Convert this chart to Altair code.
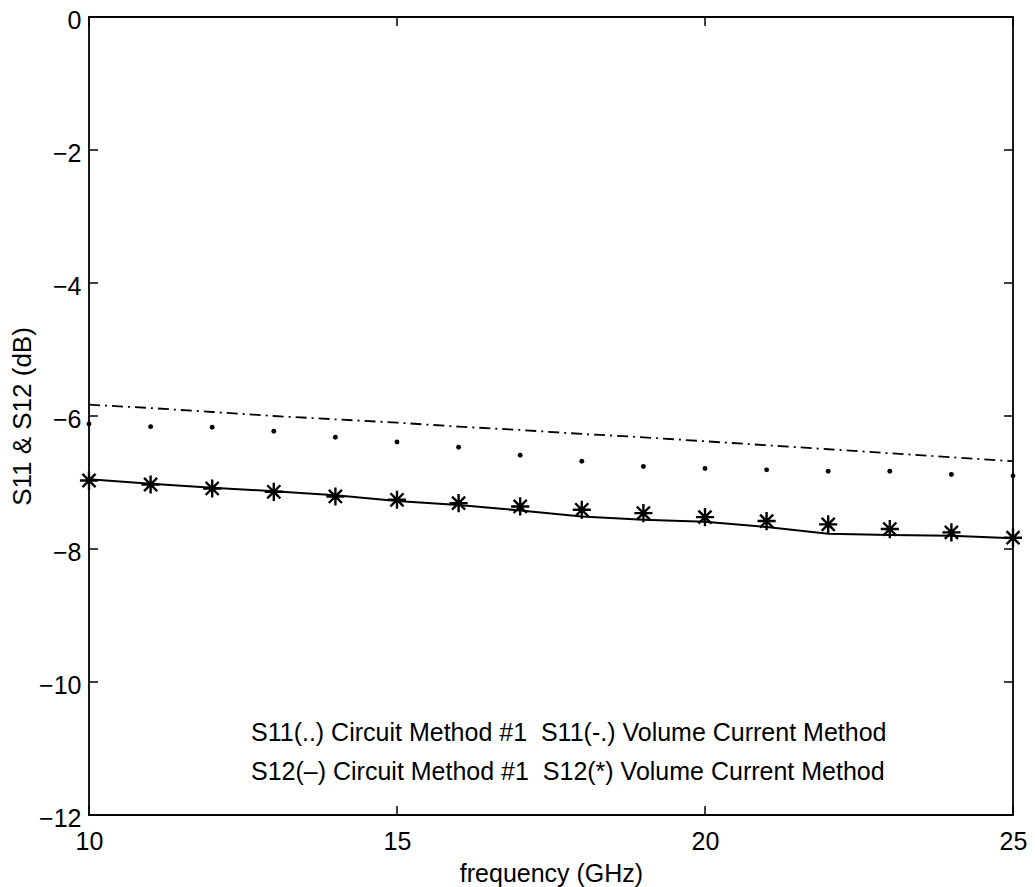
import altair as alt
import pandas as pd

freq = [10, 11, 12, 13, 14, 15, 16, 17, 18, 19, 20, 21, 22, 23, 24, 25]
s11_circuit = [-6.12, -6.16, -6.17, -6.23, -6.32, -6.39, -6.47, -6.59, -6.68, -6.76, -6.79, -6.81, -6.83, -6.83, -6.88, -6.90]
s11_volume = [-5.83, -5.88, -5.94, -6.00, -6.05, -6.10, -6.16, -6.21, -6.27, -6.32, -6.38, -6.44, -6.50, -6.56, -6.62, -6.68]
s12_circuit = [-6.95, -7.02, -7.08, -7.13, -7.19, -7.28, -7.34, -7.42, -7.51, -7.56, -7.59, -7.67, -7.77, -7.79, -7.80, -7.84]
s12_volume = [-6.97, -7.03, -7.09, -7.14, -7.21, -7.26, -7.31, -7.36, -7.41, -7.46, -7.52, -7.58, -7.63, -7.70, -7.75, -7.83]

x_ticks = [10, 15, 20, 25]
y_ticks = [-12, -10, -8, -6, -4, -2, 0]

legend_lines = [
    "S11(..) Circuit Method #1 \u00a0S11(-.) Volume Current Method",
    "S12(\u2013) Circuit Method #1 \u00a0S12(*) Volume Current Method",
]
legend_x = [12.63, 12.63]
legend_y = [-10.77, -11.35]

W, H = 924, 798
FONT = "Liberation Sans"
TL = 9

df = pd.DataFrame({"f": freq, "s11c": s11_circuit, "s11v": s11_volume,
                   "s12c": s12_circuit, "s12v": s12_volume})
xdf = pd.DataFrame({"x": x_ticks})
ydf = pd.DataFrame({"y": y_ticks})
ldf = pd.DataFrame({"x": legend_x, "y": legend_y, "t": legend_lines})

xscale = alt.Scale(domain=[10, 25], nice=False, zero=False)
yscale = alt.Scale(domain=[-12, 0], nice=False, zero=False)

xaxis = alt.Axis(values=x_ticks, format="d", ticks=False, tickSize=0, domain=False, grid=False,
                 labelFont=FONT, labelFontSize=25, labelColor="black", labelPadding=14,
                 title="frequency (GHz)", titleFont=FONT, titleFontSize=25,
                 titleFontWeight="normal", titleColor="black", titlePadding=7,
                 labelFlush=False, labelOverlap=False)
yaxis = alt.Axis(values=y_ticks, format="d", ticks=False, tickSize=0, domain=False, grid=False,
                 labelFont=FONT, labelFontSize=25, labelColor="black", labelPadding=8,
                 labelOffset=3,
                 title="S11 & S12 (dB)", titleFont=FONT, titleFontSize=26,
                 titleFontWeight="normal", titleColor="black", titlePadding=3,
                 labelFlush=False, labelOverlap=False)

base = alt.Chart(df)

s11v_line = base.mark_line(color="black", strokeWidth=1.8, strokeDash=[11, 5, 2, 5]).encode(
    x=alt.X("f:Q", scale=xscale, axis=xaxis),
    y=alt.Y("s11v:Q", scale=yscale, axis=yaxis),
)
s12c_line = base.mark_line(color="black", strokeWidth=2).encode(
    x=alt.X("f:Q", scale=xscale), y=alt.Y("s12c:Q", scale=yscale))
s11c_pts = base.mark_point(filled=True, color="black", size=24, opacity=1).encode(
    x=alt.X("f:Q", scale=xscale), y=alt.Y("s11c:Q", scale=yscale))
star = "M-1,0L1,0M0,-1L0,1M-0.72,-0.72L0.72,0.72M-0.72,0.72L0.72,-0.72"
s12v_pts = base.mark_point(shape=star, filled=False, color="black", size=330,
                           strokeWidth=2.4, opacity=1).encode(
    x=alt.X("f:Q", scale=xscale), y=alt.Y("s12v:Q", scale=yscale))

left_ticks = alt.Chart(ydf).mark_rule(color="black", strokeWidth=1.5).encode(
    y=alt.Y("y:Q", scale=yscale), x=alt.value(0), x2=alt.value(TL))
right_ticks = alt.Chart(ydf).mark_rule(color="black", strokeWidth=1.5).encode(
    y=alt.Y("y:Q", scale=yscale), x=alt.value(W), x2=alt.value(W - TL))
bottom_ticks = alt.Chart(xdf).mark_rule(color="black", strokeWidth=1.5).encode(
    x=alt.X("x:Q", scale=xscale), y=alt.value(H), y2=alt.value(H - TL))
top_ticks = alt.Chart(xdf).mark_rule(color="black", strokeWidth=1.5).encode(
    x=alt.X("x:Q", scale=xscale), y=alt.value(0), y2=alt.value(TL))

legend_text = alt.Chart(ldf).mark_text(align="left", baseline="middle", font=FONT,
                                       fontSize=25, color="black").encode(
    x=alt.X("x:Q", scale=xscale), y=alt.Y("y:Q", scale=yscale), text="t:N")

chart = alt.layer(
    s11v_line, s12c_line, s11c_pts, s12v_pts,
    left_ticks, right_ticks, bottom_ticks, top_ticks, legend_text,
).properties(
    width=W, height=H,
    autosize=alt.AutoSizeParams(type="none"),
    padding={"left": 81, "top": 9, "right": 14, "bottom": 72},
    background="white",
).configure_view(stroke="black", strokeWidth=1.8)

chart.save("out.html", embed_options={"renderer": "svg", "actions": False})
